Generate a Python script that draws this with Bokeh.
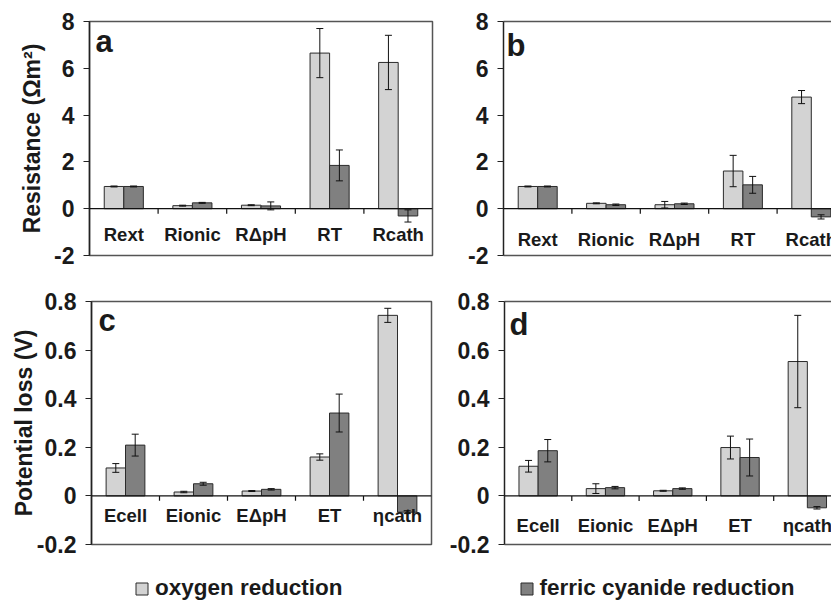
from bokeh.plotting import figure
from bokeh.layouts import column, row
from bokeh.models import (ColumnDataSource, Whisker, TeeHead, LinearAxis, FixedTicker,
                          Legend, LegendItem, Label, Span)
from bokeh.embed import file_html
from bokeh.resources import INLINE
from bokeh.core.properties import value

FONT = "Liberation Sans"

# ---------------- data ----------------
res_categories = ["Rext", "Rionic", "R\u0394pH", "RT", "Rcath"]
pot_categories = ["Ecell", "Eionic", "E\u0394pH", "ET", "\u03b7cath"]
series_names = ["oxygen reduction", "ferric cyanide reduction"]

# panel a: resistance, first reactor
a_oxygen = [0.95, 0.13, 0.15, 6.65, 6.25]
a_oxygen_err = [0.02, 0.02, 0.02, 1.05, 1.16]
a_ferric = [0.95, 0.25, 0.12, 1.85, -0.31]
a_ferric_err = [0.02, 0.02, 0.17, 0.66, 0.26]

# panel b: resistance, second reactor
b_oxygen = [0.95, 0.23, 0.17, 1.61, 4.77]
b_oxygen_err = [0.02, 0.02, 0.14, 0.67, 0.28]
b_ferric = [0.95, 0.17, 0.21, 1.02, -0.35]
b_ferric_err = [0.02, 0.03, 0.03, 0.36, 0.09]

# panel c: potential loss, first reactor
c_oxygen = [0.115, 0.016, 0.02, 0.16, 0.743]
c_oxygen_err = [0.018, 0.003, 0.002, 0.013, 0.029]
c_ferric = [0.209, 0.05, 0.027, 0.341, -0.067]
c_ferric_err = [0.045, 0.006, 0.003, 0.078, 0.006]

# panel d: potential loss, second reactor
d_oxygen = [0.122, 0.03, 0.021, 0.199, 0.553]
d_oxygen_err = [0.024, 0.02, 0.002, 0.047, 0.19]
d_ferric = [0.186, 0.034, 0.03, 0.158, -0.049]
d_ferric_err = [0.046, 0.005, 0.003, 0.076, 0.005]

res_ticks = [-2, 0, 2, 4, 6, 8]
res_tick_labels = ["-2", "0", "2", "4", "6", "8"]
pot_ticks = [-0.2, 0, 0.2, 0.4, 0.6, 0.8]
pot_tick_labels = ["-0.2", "0", "0.2", "0.4", "0.6", "0.8"]

# ---------------- style ----------------
LIGHT = "#d3d3d3"
DARK = "#808080"
EDGE = "#2b2b2b"
FRAME = "#555555"
TXT = "#1a1a1a"
BAR = 0.285


def panel(cats, oxy, oxy_err, fer, fer_err, ticks, tick_labels, ylim, letter,
          width, height, bl, br, bt, bb, n_visible, full_box, ytitle,
          letter_px, label_y, title_standoff, title_size):
    fw = width - bl - br
    fh = height - bt - bb
    ymin, ymax = ylim
    n = len(cats)
    xs = [i + 0.5 for i in range(n)]
    src = ColumnDataSource(dict(
        x_oxy=[x - BAR / 2 for x in xs], x_fer=[x + BAR / 2 for x in xs],
        oxy=oxy, fer=fer,
        oxy_hi=[v + e for v, e in zip(oxy, oxy_err)], oxy_lo=[v - e for v, e in zip(oxy, oxy_err)],
        fer_hi=[v + e for v, e in zip(fer, fer_err)], fer_lo=[v - e for v, e in zip(fer, fer_err)],
    ))
    p = figure(width=width, height=height, x_range=(0, n_visible), y_range=ylim,
               x_axis_type=None, y_axis_type=None, toolbar_location=None,
               output_backend="svg", min_border_left=bl, min_border_right=br,
               min_border_top=bt, min_border_bottom=bb)
    p.background_fill_color = "white"
    p.border_fill_color = "white"

    p.vbar(x="x_oxy", top="oxy", bottom=0, width=BAR, source=src,
           fill_color=LIGHT, line_color=EDGE, line_width=1)
    p.vbar(x="x_fer", top="fer", bottom=0, width=BAR, source=src,
           fill_color=DARK, line_color=EDGE, line_width=1)

    for base, up, lo in (("x_oxy", "oxy_hi", "oxy_lo"), ("x_fer", "fer_hi", "fer_lo")):
        p.add_layout(Whisker(source=src, base=base, upper=up, lower=lo, level="overlay",
                             line_color="#111111", line_width=1,
                             upper_head=TeeHead(size=7, line_color="#111111", line_width=1),
                             lower_head=TeeHead(size=7, line_color="#111111", line_width=1)))

    # zero axis with category boundary ticks
    p.add_layout(Span(location=0, dimension="width", line_color="#111111", line_width=1.2))
    tick_len = 5 * (ymax - ymin) / fh
    bounds = list(range(1, n))
    p.segment(x0=bounds, x1=bounds, y0=[0] * len(bounds), y1=[-tick_len] * len(bounds),
              line_color="#111111", line_width=1.2)

    # category labels inside the plot
    lab_src = ColumnDataSource(dict(x=xs, y=[label_y] * n, t=cats))
    p.text(x="x", y="y", text="t", source=lab_src, text_align="center",
           text_baseline="middle", text_font=value(FONT), text_font_style="bold",
           text_font_size="18.5px", text_color=TXT)

    # y axis
    yaxis = LinearAxis(ticker=FixedTicker(ticks=ticks),
                       major_label_overrides={float(t): l for t, l in zip(ticks, tick_labels)})
    yaxis.axis_line_color = "#222222"
    yaxis.axis_line_width = 1.5
    yaxis.major_tick_line_color = "#222222"
    yaxis.major_tick_line_width = 1.2
    yaxis.major_tick_out = 6
    yaxis.major_tick_in = 0
    yaxis.minor_tick_line_color = None
    yaxis.major_label_text_font = FONT
    yaxis.major_label_text_font_style = "bold"
    yaxis.major_label_text_font_size = "23px"
    yaxis.major_label_text_color = TXT
    yaxis.major_label_standoff = 9
    if ytitle:
        yaxis.axis_label = ytitle
        yaxis.axis_label_text_font = FONT
        yaxis.axis_label_text_font_style = "bold"
        yaxis.axis_label_text_font_size = title_size
        yaxis.axis_label_text_color = TXT
        yaxis.axis_label_standoff = title_standoff
    p.add_layout(yaxis, "left")

    if full_box:
        p.outline_line_color = FRAME
        p.outline_line_width = 1.5
    else:
        p.outline_line_color = None
        for place in ("above", "below"):
            ax = LinearAxis(ticker=FixedTicker(ticks=[]))
            ax.axis_line_color = FRAME
            ax.axis_line_width = 1.5
            ax.major_tick_line_color = None
            ax.minor_tick_line_color = None
            ax.major_tick_out = 0
            ax.major_tick_in = 0
            ax.major_label_standoff = 0
            ax.major_label_text_font_size = "0px"
            p.add_layout(ax, place)

    lx, lm = letter_px
    p.add_layout(Label(x=lx * n_visible / fw, y=ymax - lm * (ymax - ymin) / fh,
                       text=letter, text_font=FONT, text_font_style="bold",
                       text_font_size="31px", text_color=TXT, text_baseline="middle"))
    return p, src


pa, _ = panel(res_categories, a_oxygen, a_oxygen_err, a_ferric, a_ferric_err,
              res_ticks, res_tick_labels, (-2, 8), "a",
              460, 288, 89, 28, 19, 33, 5, True, "Resistance (\u03a9m\u00b2)",
              (6, 20), -1.12, 6, "23px")
pb, _ = panel(res_categories, b_oxygen, b_oxygen_err, b_ferric, b_ferric_err,
              res_ticks, res_tick_labels, (-2, 8), "b",
              371, 288, 43, 0, 21, 33, 328 / 68.4, False, None,
              (3, 24), -1.32, 10, "22px")
pc, src_c = panel(pot_categories, c_oxygen, c_oxygen_err, c_ferric, c_ferric_err,
                  pot_ticks, pot_tick_labels, (-0.2, 0.8), "c",
                  440, 274, 91, 9, 13, 15, 5, True, "Potential loss (V)",
                  (7, 19), -0.08, -3, "23px")
pd_, _ = panel(pot_categories, d_oxygen, d_oxygen_err, d_ferric, d_ferric_err,
               pot_ticks, pot_tick_labels, (-0.2, 0.8), "d",
               391, 274, 64, 0, 13, 18, 327 / 67.3, False, None,
               (5, 23), -0.122, 10, "22px")

# legend strip (legend glyphs taken from hidden copies of the panel-c bar renderers)
pl = figure(width=831, height=41, x_range=(0, 1), y_range=(0, 1), x_axis_type=None,
            y_axis_type=None, toolbar_location=None, output_backend="svg",
            min_border=0, outline_line_color=None)
l1 = pl.vbar(x="x_oxy", top="oxy", width=BAR, source=src_c, fill_color=LIGHT,
             line_color=EDGE, visible=False)
l2 = pl.vbar(x="x_fer", top="fer", width=BAR, source=src_c, fill_color=DARK,
             line_color=EDGE, visible=False)
leg = Legend(items=[LegendItem(label=series_names[0], renderers=[l1]),
                    LegendItem(label=series_names[1], renderers=[l2])],
             orientation="horizontal", location=(134, 2), spacing=176,
             padding=0, margin=0, border_line_color=None, background_fill_alpha=0,
             glyph_width=15, glyph_height=15, label_standoff=6,
             inactive_fill_alpha=0,
             label_text_font=FONT, label_text_font_style="bold",
             label_text_font_size="22.5px", label_text_color=TXT)
pl.add_layout(leg)

layout = column(row(pa, pb), row(pc, pd_), pl)
open("out.html", "w").write(file_html(layout, INLINE))
